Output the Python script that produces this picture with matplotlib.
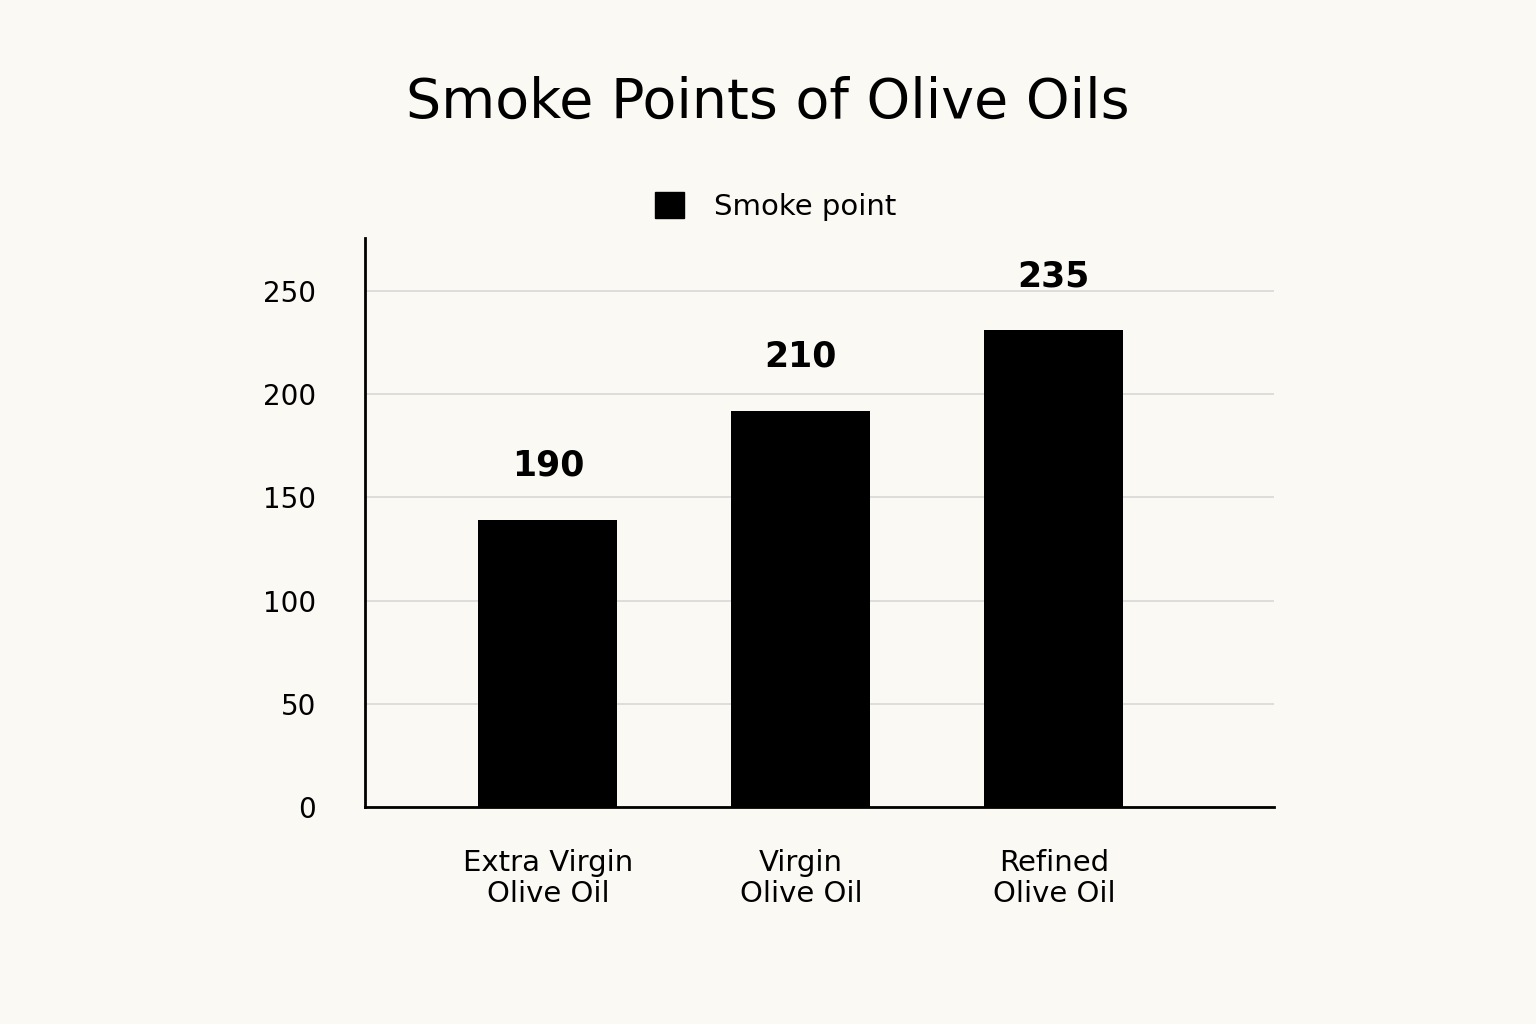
import matplotlib
matplotlib.use("Agg")
import matplotlib.pyplot as plt
from matplotlib.patches import Patch

categories = ["Extra Virgin\nOlive Oil", "Virgin\nOlive Oil", "Refined\nOlive Oil"]
bar_heights = [139, 192, 231]
value_labels = ["190", "210", "235"]
yticks = [0, 50, 100, 150, 200, 250]

bg = "#fbf9f4"
fig = plt.figure(figsize=(15.36, 10.24), dpi=100, facecolor=bg)
ax = fig.add_axes([0.2376, 0.2119, 0.5918, 0.5557], facecolor=bg)
x = list(range(len(categories)))
ax.bar(x, bar_heights, width=0.55, color="black", zorder=3)
for xi, h, lab in zip(x, bar_heights, value_labels):
    ax.text(xi, h + 18, lab, ha="center", va="bottom", fontsize=25, fontweight="bold")
ax.set_xlim(-0.723, 2.87)
ax.set_ylim(0, 275.7)
ax.set_yticks(yticks)
ax.set_yticklabels([str(t) for t in yticks], fontsize=20)
ax.set_xticks(x)
ax.set_xticklabels(categories, fontsize=21, linespacing=1.15)
ax.tick_params(length=0, pad=35, axis="y")
ax.tick_params(length=0, pad=30, axis="x")
ax.grid(axis="y", color="#d8d8d8", linewidth=1.2, zorder=0)
for s in ["top", "right"]:
    ax.spines[s].set_visible(False)
for s in ["left", "bottom"]:
    ax.spines[s].set_linewidth(2)
fig.text(0.5, 0.9, "Smoke Points of Olive Oils", ha="center", va="center", fontsize=40, fontweight="medium")
fig.legend(handles=[Patch(color="black", label="Smoke point")], loc="center", bbox_to_anchor=(0.505, 0.798),
           frameon=False, fontsize=21, handlelength=1.0, handleheight=1.0, handletextpad=1.0)
fig.savefig("out.png", dpi=100, facecolor=bg)
